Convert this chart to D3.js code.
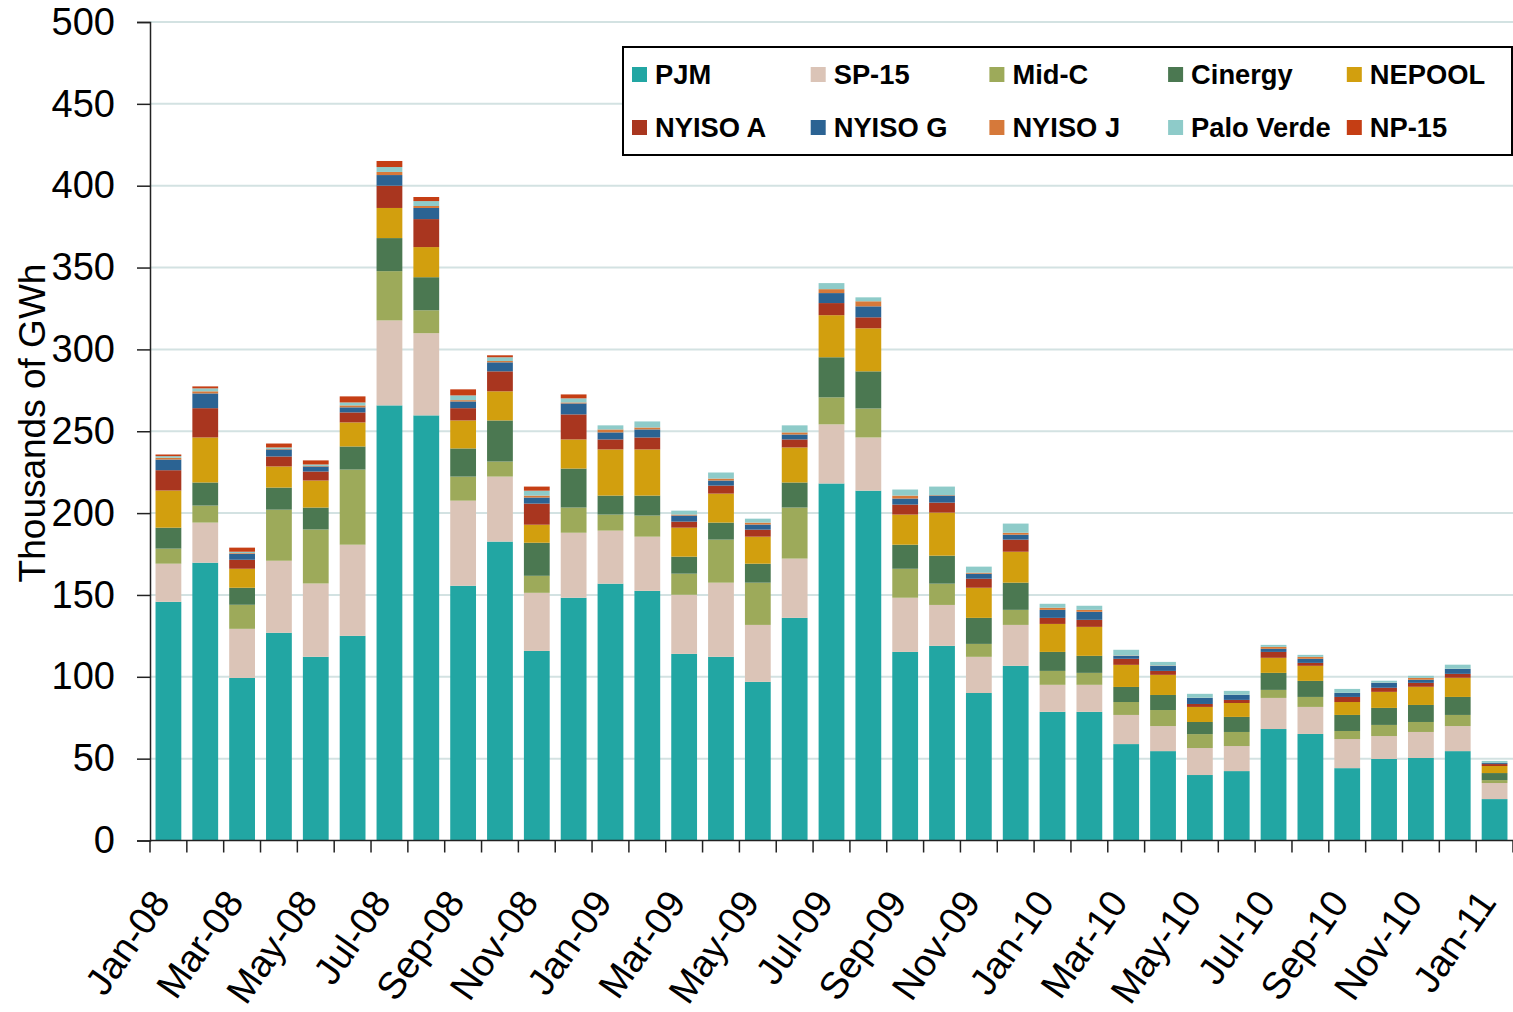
<!DOCTYPE html>
<html>
<head>
<meta charset="utf-8">
<script src="https://cdn.jsdelivr.net/npm/d3@7"></script>
<style>
  body { margin: 0; background: #ffffff; }
  svg { display: block; font-family: "Liberation Sans", Arial, sans-serif; }
</style>
</head>
<body>
<svg width="1513" height="1012"></svg>
<script>
// months Jan-08 .. Jan-11, thousands of GWh
const months = ["Jan-08","Feb-08","Mar-08","Apr-08","May-08","Jun-08","Jul-08","Aug-08","Sep-08","Oct-08","Nov-08","Dec-08",
  "Jan-09","Feb-09","Mar-09","Apr-09","May-09","Jun-09","Jul-09","Aug-09","Sep-09","Oct-09","Nov-09","Dec-09",
  "Jan-10","Feb-10","Mar-10","Apr-10","May-10","Jun-10","Jul-10","Aug-10","Sep-10","Oct-10","Nov-10","Dec-10","Jan-11"];

const seriesNames = ["PJM","SP-15","Mid-C","Cinergy","NEPOOL","NYISO A","NYISO G","NYISO J","Palo Verde","NP-15"];
const seriesColors = ["#22a6a3","#dbc4b7","#9daa5a","#4b7851","#d29f0e","#a9361f","#2b6393","#d6793a","#8ecbc9","#c53e14"];

const pjm = [145.8,169.7,99.3,126.9,112.2,125.0,265.8,259.7,155.6,182.6,115.8,148.3,156.9,152.5,114.0,112.2,96.9,136.0,218.1,213.7,115.2,118.9,90.1,106.7,78.6,78.6,58.9,54.6,40.0,42.4,68.1,65.1,44.2,49.8,50.4,54.6,25.3];
const sp15 = [23.3,24.5,30.0,44.0,44.8,55.7,51.9,50.2,52.0,39.7,35.5,39.7,32.4,33.1,36.1,45.3,34.8,36.2,36.1,32.5,33.1,25.0,22.1,25.0,16.5,16.5,17.8,15.3,16.5,15.3,19.0,16.5,17.8,14.0,15.9,15.3,9.8];
const midC = [9.2,10.4,14.7,31.2,33.0,45.9,30.1,14.0,14.7,9.2,10.4,15.4,9.8,12.9,12.9,26.3,25.8,31.2,16.5,17.7,17.7,13.0,7.9,9.2,8.5,7.3,7.9,9.8,8.5,8.6,4.9,6.1,4.9,6.8,6.1,6.8,1.8];
const cinergy = [12.8,14.1,10.4,13.5,13.4,14.1,20.2,20.2,17.2,25.1,20.2,23.8,11.6,12.2,10.4,10.4,11.6,15.3,24.5,22.7,14.7,17.1,15.9,16.6,11.6,10.4,9.2,9.2,7.4,9.2,10.4,9.8,9.8,10.4,10.4,11.0,4.3];
const nepool = [22.7,27.5,11.6,12.9,16.5,14.7,18.4,18.4,17.1,17.8,11.0,17.8,28.2,28.2,17.7,17.7,16.5,21.4,25.7,26.3,18.4,26.3,18.4,18.9,17.1,17.7,13.5,12.3,9.2,8.5,9.2,9.2,7.9,9.8,11.1,11.7,4.3];
const nyisoA = [12.4,17.9,5.5,6.1,5.5,6.1,13.6,17.1,7.5,12.2,12.9,15.3,6.1,7.3,3.7,4.9,4.3,4.9,7.4,6.7,6.1,6.1,5.5,7.4,3.7,4.3,3.7,2.4,1.8,1.9,3.6,1.8,3.1,2.5,2.4,2.4,1.2];
const nyisoG = [6.5,9.0,3.7,4.3,3.1,3.1,6.5,6.8,4.1,5.5,3.7,6.7,4.3,4.9,3.7,3.1,3.1,3.0,6.1,6.7,3.7,4.3,3.1,3.0,4.9,4.9,1.8,3.1,3.7,3.0,1.9,2.5,2.4,3.0,1.9,3.0,0.6];
const nyisoJ = [1.1,1.3,0.4,0.3,0.3,1.2,1.9,1.2,0.8,0.8,1.2,0.6,1.8,1.2,0.6,1.2,1.2,1.3,2.4,3.1,1.8,0.3,0.6,1.2,1.3,1.2,0.2,0.2,0.1,0.1,1.2,1.2,0.1,0.1,1.2,0.1,0.1];
const paloVerde = [1.0,1.8,0.8,0.9,0.9,1.8,3.0,3.0,2.9,2.3,3.0,2.5,2.5,3.7,2.4,3.7,2.4,4.3,3.7,2.4,3.7,5.2,3.7,5.6,2.4,2.5,3.5,2.2,2.4,2.4,1.2,1.2,2.4,1.2,1.2,2.5,1.2];
const np15 = [1.0,1.2,2.5,2.4,2.5,3.7,3.7,2.5,3.7,1.2,2.5,2.4,0,0,0,0,0,0,0,0,0,0,0,0,0,0,0,0,0,0,0,0,0,0,0,0,0];

const yTicks = [0,50,100,150,200,250,300,350,400,450,500];
const xLabelMonths = months.filter((m, i) => i % 2 === 0);

const allSeries = [pjm, sp15, midC, cinergy, nepool, nyisoA, nyisoG, nyisoJ, paloVerde, np15];

// table for d3.stack
let table = months.map((m, i) => {
  let row = { month: m };
  seriesNames.forEach((s, j) => { row[s] = allSeries[j][i]; });
  return row;
});

let margin = { top: 22, right: 0, bottom: 172, left: 150 };
let width = 1513;
let height = 1012;

let svg = d3.select("svg");

let xScale = d3.scaleBand()
  .domain(months)
  .range([margin.left, width - margin.right])
  .paddingInner(0.3)
  .paddingOuter(0.15);

let yScale = d3.scaleLinear()
  .domain([0, 500])
  .range([height - margin.bottom + 0.5, margin.top]);

let colors = d3.scaleOrdinal()
  .domain(seriesNames)
  .range(seriesColors);

// gridlines
svg.append("g")
  .selectAll("line")
  .data(yTicks.filter(d => d > 0))
  .enter().append("line")
  .attr("x1", margin.left)
  .attr("x2", width)
  .attr("y1", d => yScale(d))
  .attr("y2", d => yScale(d))
  .attr("stroke", "#d3e2e2")
  .attr("stroke-width", 2);

// bars
let stacked = d3.stack().keys(seriesNames)(table);

svg.append("g")
  .selectAll("g")
  .data(stacked)
  .enter().append("g")
  .attr("fill", d => colors(d.key))
  .selectAll("rect")
  .data(d => d)
  .enter().append("rect")
  .attr("x", d => xScale(d.data.month))
  .attr("y", d => yScale(d[1]))
  .attr("width", xScale.bandwidth())
  .attr("height", d => Math.max(0, yScale(d[0]) - yScale(d[1])));

// y axis
let yAxis = svg.append("g")
  .attr("transform", "translate(" + margin.left + ",0)")
  .call(d3.axisLeft(yScale).tickValues(yTicks).tickSize(13).tickPadding(22));

yAxis.select(".domain").attr("stroke", "#222").attr("stroke-width", 1.5);
yAxis.selectAll(".tick line").attr("stroke", "#222").attr("stroke-width", 1.5);
yAxis.selectAll(".tick text")
  .attr("font-size", 38)
  .attr("font-family", "Liberation Sans, Arial, sans-serif")
  .attr("fill", "#000");

// x axis: ticks at band boundaries
let step = xScale.step();
let x0 = xScale.range()[0];
let boundaries = d3.range(months.length + 1).map(i => x0 + i * step);

let xAxis = svg.append("g");
xAxis.append("line")
  .attr("x1", margin.left)
  .attr("x2", width)
  .attr("y1", yScale(0))
  .attr("y2", yScale(0))
  .attr("stroke", "#222")
  .attr("stroke-width", 1.5);

xAxis.selectAll(".xtick")
  .data(boundaries)
  .enter().append("line")
  .attr("class", "xtick")
  .attr("x1", d => d)
  .attr("x2", d => d)
  .attr("y1", yScale(0))
  .attr("y2", yScale(0) + 12)
  .attr("stroke", "#222")
  .attr("stroke-width", 1.5);

xAxis.selectAll(".xlabel")
  .data(xLabelMonths)
  .enter().append("text")
  .attr("class", "xlabel")
  .attr("transform", d => "translate(" + (xScale(d) + xScale.bandwidth() / 2 + 3) + "," + (yScale(0) + 62) + ") rotate(-55)")
  .attr("text-anchor", "end")
  .attr("font-size", 38)
  .attr("fill", "#000")
  .text(d => d);

// y axis title
svg.append("text")
  .attr("transform", "translate(45," + 423 + ") rotate(-90)")
  .attr("text-anchor", "middle")
  .attr("font-size", 37)
  .attr("fill", "#000")
  .text("Thousands of GWh");

// legend
let legend = svg.append("g");
legend.append("rect")
  .attr("x", 623)
  .attr("y", 47)
  .attr("width", 889)
  .attr("height", 108)
  .attr("fill", "#ffffff")
  .attr("stroke", "#000")
  .attr("stroke-width", 2);

let legendItems = legend.selectAll(".item")
  .data(seriesNames)
  .enter().append("g")
  .attr("class", "item")
  .attr("transform", (d, i) => "translate(" + (632 + (i % 5) * 178.7) + "," + (i < 5 ? 75 : 128) + ")");

legendItems.append("rect")
  .attr("x", 0)
  .attr("y", -8)
  .attr("width", 15)
  .attr("height", 15)
  .attr("fill", d => colors(d));

legendItems.append("text")
  .attr("x", 23)
  .attr("y", 9)
  .attr("font-size", 27.3)
  .attr("font-weight", "bold")
  .attr("fill", "#000")
  .text(d => d);
</script>
</body>
</html>
